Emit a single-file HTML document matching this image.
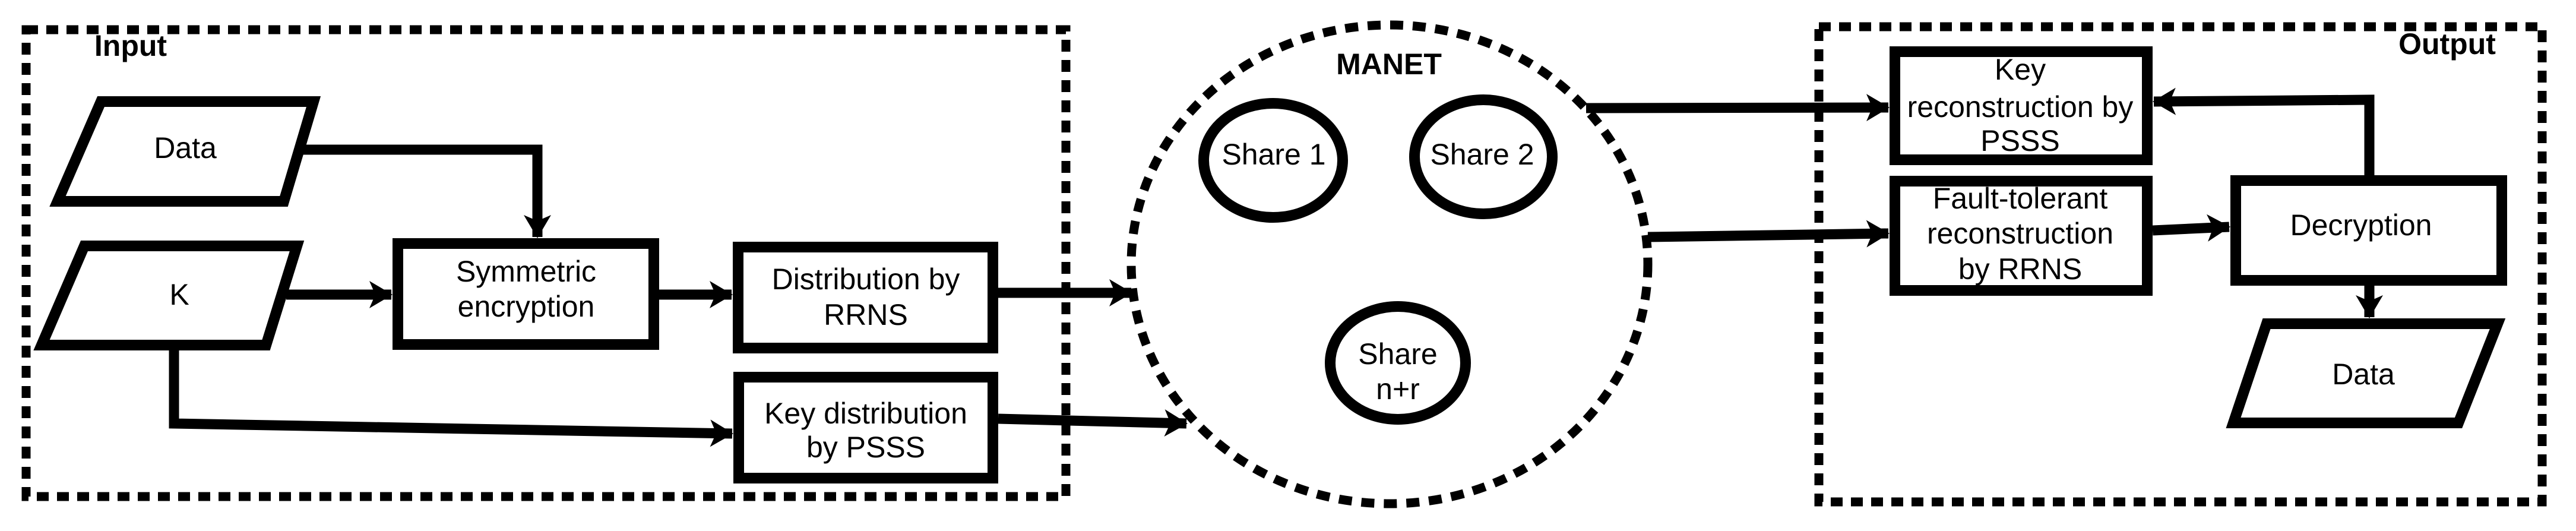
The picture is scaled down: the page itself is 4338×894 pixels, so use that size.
<!DOCTYPE html>
<html><head><meta charset="utf-8"><style>
html,body{margin:0;padding:0;background:#fff;}
svg{display:block;}
text{font-family:"Liberation Sans",Arial,sans-serif;font-size:50px;fill:#000;text-anchor:middle;}
.b{font-weight:bold;}
</style></head><body>
<svg width="4338" height="894" viewBox="0 0 4338 894" xmlns="http://www.w3.org/2000/svg">
<defs>
<marker id="ah" markerUnits="userSpaceOnUse" markerWidth="60" markerHeight="60" refX="0" refY="0" viewBox="-40 -30 44 60" orient="auto">
<path d="M2,0 L-37,-23 L-27,0 L-37,23 Z" fill="#000"/>
</marker>
</defs>
<g fill="none" stroke="#000">
<!-- containers -->
<rect x="44" y="50" width="1751" height="786" stroke-width="15" stroke-dasharray="20 14"/>
<rect x="3063" y="45" width="1218" height="800" stroke-width="15" stroke-dasharray="20 14"/>
<ellipse cx="2340" cy="445" rx="435" ry="403" stroke-width="15" stroke-dasharray="22 16"/>
<!-- shares -->
<ellipse cx="2144" cy="270" rx="117" ry="96" stroke-width="18"/>
<ellipse cx="2498" cy="264" rx="116" ry="96" stroke-width="18"/>
<ellipse cx="2354" cy="611" rx="114" ry="95" stroke-width="18"/>
<!-- parallelograms -->
<polygon points="170,171 528,171 478,339 97,339" stroke-width="18"/>
<polygon points="142,414 500,414 448,581 70,581" stroke-width="18"/>
<polygon points="3817,545 4206,545 4140,712 3761,712" stroke-width="18"/>
<!-- boxes -->
<rect x="670" y="410" width="431" height="170" stroke-width="18"/>
<rect x="1243" y="416" width="429" height="170" stroke-width="18"/>
<rect x="1244" y="635" width="428" height="170" stroke-width="18"/>
<rect x="3191" y="87" width="425" height="182" stroke-width="18"/>
<rect x="3191" y="305" width="425" height="184" stroke-width="18"/>
<rect x="3765" y="304" width="448" height="168" stroke-width="18"/>
<!-- connectors -->
<g stroke-width="17" marker-end="url(#ah)">
<polyline points="510,252 905,252 905,399"/>
<line x1="482" y1="496" x2="659" y2="496"/>
<line x1="1110" y1="496" x2="1232" y2="496"/>
<line x1="1681" y1="493" x2="1905" y2="493"/>
<polyline points="293,590 293,713 1233,730"/>
<line x1="1681" y1="705" x2="1998" y2="713"/>
<line x1="2671" y1="182" x2="3180" y2="181"/>
<line x1="2775" y1="399" x2="3180" y2="393"/>
<line x1="3625" y1="388" x2="3754" y2="382"/>
<polyline points="3990,295 3990,168 3627,171"/>
<line x1="3990" y1="481" x2="3990" y2="534"/>
</g>
</g>
<text class="b" x="220" y="94" font-size="46">Input</text>
<text class="b" x="4121" y="91" font-size="48">Output</text>
<text class="b" x="2339" y="125" font-size="51">MANET</text>
<text x="312" y="266">Data</text>
<text x="302" y="513">K</text>
<text x="886" y="474">Symmetric</text>
<text x="886" y="533">encryption</text>
<text x="1458" y="487">Distribution by</text>
<text x="1458" y="547">RRNS</text>
<text x="1458" y="713">Key distribution</text>
<text x="1458" y="770">by PSSS</text>
<text x="2145" y="277">Share 1</text>
<text x="2496" y="277">Share 2</text>
<text x="2354" y="613">Share</text>
<text x="2354" y="672">n+r</text>
<text x="3402" y="134">Key</text>
<text x="3402" y="197">reconstruction by</text>
<text x="3402" y="254">PSSS</text>
<text x="3402" y="351">Fault-tolerant</text>
<text x="3402" y="410">reconstruction</text>
<text x="3402" y="470">by RRNS</text>
<text x="3976" y="396">Decryption</text>
<text x="3980" y="647">Data</text>
</svg>
</body></html>
